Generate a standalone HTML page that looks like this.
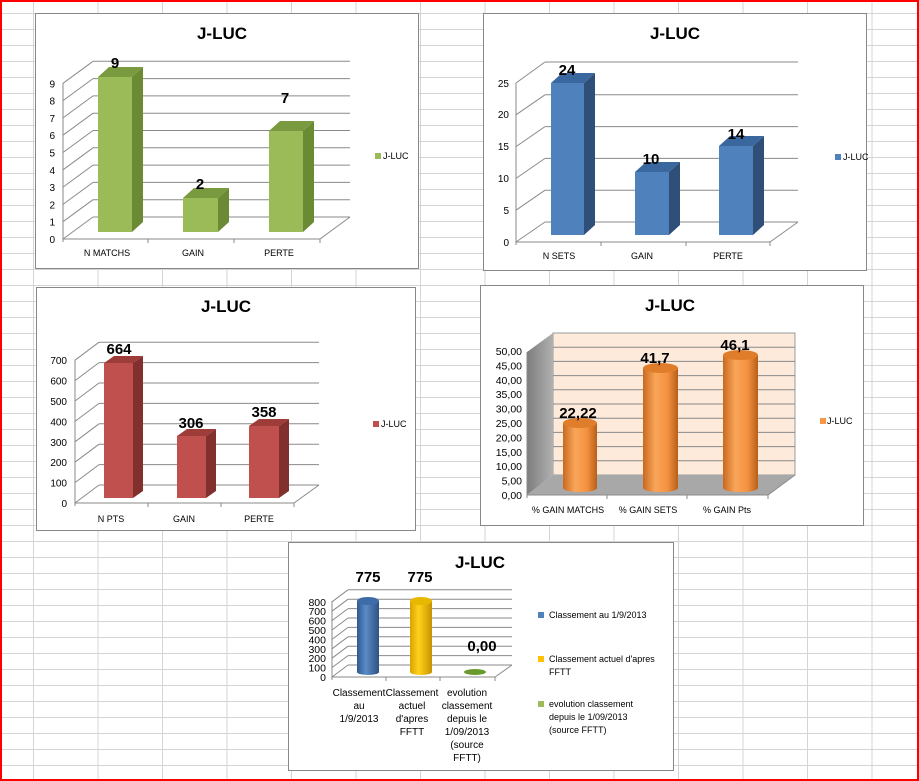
<!DOCTYPE html>
<html><head><meta charset="utf-8"><style>
html,body{margin:0;padding:0;background:#fff;}
svg{display:block;font-family:"Liberation Sans",Arial,sans-serif;}
.t{font-size:17px;font-weight:bold;text-anchor:middle;}
.ax{font-size:10px;text-anchor:end;fill:#000;}
.cat{font-size:9px;text-anchor:middle;}
.v{font-size:15px;font-weight:bold;text-anchor:middle;}
.g{stroke:#8a8a8a;stroke-width:1;fill:none;}
.lg{font-size:9px;}
</style></head><body>
<svg width="919" height="781" viewBox="0 0 919 781" xmlns="http://www.w3.org/2000/svg">
<defs>
<pattern id="cells" patternUnits="userSpaceOnUse" x="33" y="13" width="64.5" height="16">
<path d="M0.5 0V16M0 0.5H64.5" stroke="#d4d4d4" stroke-width="1" fill="none"/>
</pattern>
<linearGradient id="og" x1="0" x2="1" y1="0" y2="0">
<stop offset="0" stop-color="#c9691e"/><stop offset="0.35" stop-color="#f9a55a"/><stop offset="0.7" stop-color="#f49240"/><stop offset="1" stop-color="#b85f18"/></linearGradient>
<linearGradient id="bg" x1="0" x2="1"><stop offset="0" stop-color="#2f5a8f"/><stop offset="0.4" stop-color="#5b8bc6"/><stop offset="1" stop-color="#2c5283"/></linearGradient>
<linearGradient id="yg" x1="0" x2="1"><stop offset="0" stop-color="#d9a400"/><stop offset="0.4" stop-color="#ffd21a"/><stop offset="1" stop-color="#c79200"/></linearGradient>
<linearGradient id="wall" x1="0" x2="1"><stop offset="0" stop-color="#7d7d7d"/><stop offset="1" stop-color="#b0b0b0"/></linearGradient>
</defs>
<rect width="919" height="781" fill="#fff"/>
<rect width="919" height="781" fill="url(#cells)"/>
<rect x="1" y="1" width="917" height="779" fill="none" stroke="#ff0000" stroke-width="2"/>

<!-- Chart 1 -->
<rect x="35.5" y="13.5" width="383" height="255" fill="#fff" stroke="#888"/>
<text class="t" x="222" y="39">J-LUC</text>
<g class="g">
<path d="M93 217H350M93 199.7H350M93 182.4H350M93 165.1H350M93 147.8H350M93 130.5H350M93 113.2H350M93 95.9H350M93 78.6H350M93 61.3H350"/>
<path d="M63 239L93 217M63 221.7L93 199.7M63 204.4L93 182.4M63 187.1L93 165.1M63 169.8L93 147.8M63 152.5L93 130.5M63 135.2L93 113.2M63 117.9L93 95.9M63 100.6L93 78.6M63 83.3L93 61.3"/>
<path d="M63 83V242M63 239H320L350 217M148 239v4M234 239v4M320 239v4"/>
</g>
<g class="ax">
<text x="55" y="243">0</text><text x="55" y="225.7">1</text><text x="55" y="208.4">2</text><text x="55" y="191.1">3</text><text x="55" y="173.8">4</text><text x="55" y="156.5">5</text><text x="55" y="139.2">6</text><text x="55" y="121.9">7</text><text x="55" y="104.6">8</text><text x="55" y="87.3">9</text>
</g>
<g>
<rect x="98" y="77" width="34" height="155" fill="#9bbb59"/><polygon points="132,77 143,67 143,222 132,232" fill="#6a8a33"/><polygon points="98,77 109,67 143,67 132,77" fill="#7a9a3f"/>
<rect x="183" y="198" width="35" height="34" fill="#9bbb59"/><polygon points="218,198 229,188 229,222 218,232" fill="#6a8a33"/><polygon points="183,198 194,188 229,188 218,198" fill="#7a9a3f"/>
<rect x="269" y="131" width="34" height="101" fill="#9bbb59"/><polygon points="303,131 314,121 314,222 303,232" fill="#6a8a33"/><polygon points="269,131 280,121 314,121 303,131" fill="#7a9a3f"/>
</g>
<text class="v" x="115" y="68">9</text><text class="v" x="200" y="189">2</text><text class="v" x="285" y="103">7</text>
<text class="cat" x="107" y="256">N MATCHS</text><text class="cat" x="193" y="256">GAIN</text><text class="cat" x="279" y="256">PERTE</text>
<rect x="375" y="153" width="6" height="6" fill="#9bbb59"/><text class="lg" x="383" y="159">J-LUC</text>

<!-- Chart 2 -->
<rect x="483.5" y="13.5" width="383" height="257" fill="#fff" stroke="#888"/>
<text class="t" x="675" y="39">J-LUC</text>
<g class="g">
<path d="M545 222H798M545 190.2H798M545 158.4H798M545 126.6H798M545 94.8H798M545 62H798"/>
<path d="M516 242L545 222M516 210.2L545 190.2M516 178.4L545 158.4M516 146.6L545 126.6M516 114.8L545 94.8M516 83L545 62"/>
<path d="M516 83V245M516 242H770L798 222M601 242v4M686 242v4M770 242v4"/>
</g>
<g class="ax">
<text x="509" y="246">0</text><text x="509" y="214">5</text><text x="509" y="182">10</text><text x="509" y="150">15</text><text x="509" y="118">20</text><text x="509" y="87">25</text>
</g>
<g>
<rect x="551" y="83" width="33" height="152" fill="#4f81bd"/><polygon points="584,83 595,73 595,225 584,235" fill="#2f4f78"/><polygon points="551,83 562,73 595,73 584,83" fill="#3a679d"/>
<rect x="635" y="172" width="34" height="63" fill="#4f81bd"/><polygon points="669,172 680,162 680,225 669,235" fill="#2f4f78"/><polygon points="635,172 646,162 680,162 669,172" fill="#3a679d"/>
<rect x="719" y="146" width="34" height="89" fill="#4f81bd"/><polygon points="753,146 764,136 764,225 753,235" fill="#2f4f78"/><polygon points="719,146 730,136 764,136 753,146" fill="#3a679d"/>
</g>
<text class="v" x="567" y="75">24</text><text class="v" x="651" y="164">10</text><text class="v" x="736" y="139">14</text>
<text class="cat" x="559" y="259">N SETS</text><text class="cat" x="642" y="259">GAIN</text><text class="cat" x="728" y="259">PERTE</text>
<rect x="835" y="154" width="6" height="6" fill="#4f81bd"/><text class="lg" x="843" y="160">J-LUC</text>

<!-- Chart 3 -->
<rect x="36.5" y="287.5" width="379" height="243" fill="#fff" stroke="#888"/>
<text class="t" x="226" y="312">J-LUC</text>
<g class="g">
<path d="M99 485H319M99 464.6H319M99 444.2H319M99 423.8H319M99 403.4H319M99 383H319M99 362.6H319M99 342.2H319"/>
<path d="M75 503L99 485M75 482.6L99 464.6M75 462.2L99 444.2M75 441.8L99 423.8M75 421.4L99 403.4M75 401L99 383M75 380.6L99 362.6M75 360.2L99 342.2"/>
<path d="M75 360V506M75 503H294L319 485M148 503v4M221 503v4M294 503v4"/>
</g>
<g class="ax">
<text x="67" y="507">0</text><text x="67" y="486.6">100</text><text x="67" y="466.2">200</text><text x="67" y="445.8">300</text><text x="67" y="425.4">400</text><text x="67" y="405">500</text><text x="67" y="384.6">600</text><text x="67" y="364.2">700</text>
</g>
<g>
<rect x="104" y="363" width="29" height="135" fill="#c0504d"/><polygon points="133,363 143,356 143,491 133,498" fill="#82302e"/><polygon points="104,363 114,356 143,356 133,363" fill="#9e3c39"/>
<rect x="177" y="436" width="29" height="62" fill="#c0504d"/><polygon points="206,436 216,429 216,491 206,498" fill="#82302e"/><polygon points="177,436 187,429 216,429 206,436" fill="#9e3c39"/>
<rect x="249" y="426" width="30" height="72" fill="#c0504d"/><polygon points="279,426 289,419 289,491 279,498" fill="#82302e"/><polygon points="249,426 259,419 289,419 279,426" fill="#9e3c39"/>
</g>
<text class="v" x="119" y="354">664</text><text class="v" x="191" y="428">306</text><text class="v" x="264" y="417">358</text>
<text class="cat" x="111" y="522">N PTS</text><text class="cat" x="184" y="522">GAIN</text><text class="cat" x="259" y="522">PERTE</text>
<rect x="373" y="421" width="6" height="6" fill="#c0504d"/><text class="lg" x="381" y="427">J-LUC</text>

<!-- Chart 4 -->
<rect x="480.5" y="285.5" width="383" height="240" fill="#fff" stroke="#888"/>
<text class="t" x="670" y="311">J-LUC</text>
<rect x="553" y="333" width="242" height="142" fill="#fdeadb" stroke="#999"/>
<polygon points="527,352 553,333 553,475 527,495" fill="url(#wall)"/>
<polygon points="527,495 553,475 795,475 768,495" fill="#a8a8a8"/>
<g class="g">
<path d="M553 460.8H795M553 446.6H795M553 432.4H795M553 418.2H795M553 404H795M553 389.8H795M553 375.6H795M553 361.4H795M553 347.2H795"/>
<path d="M527 352V498M527 495H768L795 475M607 495v4M687 495v4M768 495v4"/>
</g>
<g class="ax" style="font-size:10.5px">
<text x="522" y="499">0,00</text><text x="522" y="484.6">5,00</text><text x="522" y="470.2">10,00</text><text x="522" y="455.8">15,00</text><text x="522" y="441.4">20,00</text><text x="522" y="427">25,00</text><text x="522" y="412.6">30,00</text><text x="522" y="398.2">35,00</text><text x="522" y="383.8">40,00</text><text x="522" y="369.4">45,00</text><text x="522" y="355">50,00</text>
</g>
<g>
<path d="M563 423V488A17 4 0 0 0 597 488V423Z" fill="url(#og)"/><ellipse cx="580" cy="423" rx="17" ry="5" fill="#e07d2a"/>
<path d="M643 368V488A17.5 4 0 0 0 678 488V368Z" fill="url(#og)"/><ellipse cx="660.5" cy="368" rx="17.5" ry="5" fill="#e07d2a"/>
<path d="M723 355V488A17.5 4 0 0 0 758 488V355Z" fill="url(#og)"/><ellipse cx="740.5" cy="355" rx="17.5" ry="5" fill="#e07d2a"/>
</g>
<text class="v" x="578" y="418">22,22</text><text class="v" x="655" y="363">41,7</text><text class="v" x="735" y="350">46,1</text>
<text class="cat" x="568" y="513">% GAIN MATCHS</text><text class="cat" x="648" y="513">% GAIN SETS</text><text class="cat" x="727" y="513">% GAIN Pts</text>
<rect x="820" y="418" width="6" height="6" fill="#f79646"/><text class="lg" x="827" y="424">J-LUC</text>

<!-- Chart 5 -->
<rect x="288.5" y="542.5" width="385" height="228" fill="#fff" stroke="#888"/>
<text class="t" x="480" y="568">J-LUC</text>
<g class="g">
<path d="M348 665H512M348 655.6H512M348 646.2H512M348 636.8H512M348 627.4H512M348 618H512M348 608.6H512M348 599.2H512M348 589.8H512"/>
<path d="M332 677L348 665M332 667.6L348 655.6M332 658.2L348 646.2M332 648.8L348 636.8M332 639.4L348 627.4M332 630L348 618M332 620.6L348 608.6M332 611.2L348 599.2M332 601.8L348 589.8"/>
<path d="M332 601V680M332 677H495L512 665M386 677v4M440 677v4M495 677v4"/>
</g>
<g class="ax" style="font-size:10.5px">
<text x="326" y="681">0</text><text x="326" y="671.6">100</text><text x="326" y="662.2">200</text><text x="326" y="652.8">300</text><text x="326" y="643.4">400</text><text x="326" y="634">500</text><text x="326" y="624.6">600</text><text x="326" y="615.2">700</text><text x="326" y="605.8">800</text>
</g>
<path d="M357 601V672A11 3 0 0 0 379 672V601Z" fill="url(#bg)"/><ellipse cx="368" cy="601" rx="11" ry="4" fill="#3d6ca8"/>
<path d="M410 601V672A11 3 0 0 0 432 672V601Z" fill="url(#yg)"/><ellipse cx="421" cy="601" rx="11" ry="4" fill="#e8b800"/>
<ellipse cx="475" cy="672" rx="11" ry="3" fill="#6a9a2e"/>
<text class="v" x="368" y="582">775</text><text class="v" x="420" y="582">775</text><text class="v" x="482" y="651">0,00</text>
<g class="cat" style="font-size:10px">
<text x="359" y="696">Classement</text><text x="359" y="709">au</text><text x="359" y="722">1/9/2013</text>
<text x="412" y="696">Classement</text><text x="412" y="709">actuel</text><text x="412" y="722">d'apres</text><text x="412" y="735">FFTT</text>
<text x="467" y="696">evolution</text><text x="467" y="709">classement</text><text x="467" y="722">depuis le</text><text x="467" y="735">1/09/2013</text><text x="467" y="748">(source</text><text x="467" y="761">FFTT)</text>
</g>
<g class="lg">
<rect x="538" y="612" width="6" height="6" fill="#4f81bd"/><text x="549" y="618">Classement au 1/9/2013</text>
<rect x="538" y="656" width="6" height="6" fill="#ffc000"/><text x="549" y="662">Classement actuel d'apres</text><text x="549" y="675">FFTT</text>
<rect x="538" y="701" width="6" height="6" fill="#9bbb59"/><text x="549" y="707">evolution classement</text><text x="549" y="720">depuis le 1/09/2013</text><text x="549" y="733">(source FFTT)</text>
</g>
</svg>
</body></html>
